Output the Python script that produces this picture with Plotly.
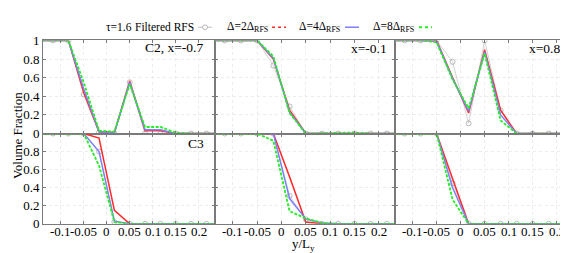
import plotly.graph_objects as go

# ---------------- data ----------------
y_pos = [-0.15, -0.1167, -0.0833, -0.05, -0.0167, 0.0167, 0.05, 0.0833, 0.1167, 0.15, 0.1833, 0.2167, 0.25]

# C2 (top row)
c2_m07_filt = [1, 1, 1, 0.42, 0.01, 0, 0.55, 0, 0, 0, 0, 0, 0]
c2_m07_d2 = [1, 1, 1, 0.44, 0.02, 0.01, 0.565, 0.03, 0.03, 0, 0, 0, 0]
c2_m07_d4 = [1, 1, 1, 0.48, 0.02, 0.01, 0.55, 0.04, 0.04, 0, 0, 0, 0]
c2_m07_d8 = [1, 1, 1, 0.55, 0.03, 0.02, 0.53, 0.07, 0.07, 0.01, 0, 0, 0]

c2_m01_filt = [1, 1, 1, 1, 0.73, 0.29, 0, 0, 0, 0, 0, 0, 0]
c2_m01_d2 = [1, 1, 1, 1, 0.80, 0.25, 0, 0, 0, 0, 0, 0, 0]
c2_m01_d4 = [1, 1, 1, 1, 0.81, 0.23, 0, 0, 0, 0, 0, 0, 0]
c2_m01_d8 = [1, 1, 1, 1, 0.83, 0.22, 0, 0.005, 0.01, 0.01, 0, 0, 0]

c2_p085_filt = [1, 1, 1, 1, 0.77, 0.11, 1.0, 0.25, 0, 0, 0, 0, 0]
c2_p085_d2 = [1, 1, 1, 1, 0.60, 0.22, 0.90, 0.25, 0, 0, 0, 0, 0]
c2_p085_d4 = [1, 1, 1, 0.99, 0.59, 0.24, 0.88, 0.20, 0, 0, 0, 0, 0]
c2_p085_d8 = [1, 1, 1, 0.98, 0.58, 0.27, 0.86, 0.14, 0, 0, 0, 0, 0]

# C3 (bottom row)
c3_m07_filt = [1, 1, 1, 1, 0.80, 0.02, 0, 0, 0, 0, 0, 0, 0]
c3_m07_d2 = [1, 1, 1, 1, 0.95, 0.15, 0, 0, 0, 0, 0, 0, 0]
c3_m07_d4 = [1, 1, 1, 1, 0.80, 0.03, 0, 0, 0, 0, 0, 0, 0]
c3_m07_d8 = [1, 1, 1, 1, 0.645, 0.02, 0, 0, 0, 0, 0, 0, 0]

c3_m01_filt = [1, 1, 1, 1, 1, 0.31, 0.05, 0, 0, 0, 0, 0, 0]
c3_m01_d2 = [1, 1, 1, 1, 1, 0.52, 0.02, 0, 0, 0, 0, 0, 0]
c3_m01_d4 = [1, 1, 1, 1, 1, 0.28, 0.055, 0.01, 0, 0, 0, 0, 0]
c3_m01_d8 = [1, 1, 1, 1, 0.92, 0.14, 0.06, 0.01, 0, 0, 0, 0, 0]

c3_p085_filt = [1, 1, 1, 1, 0.45, 0, 0, 0, 0, 0, 0, 0, 0]
c3_p085_d2 = [1, 1, 1, 1, 0.50, 0, 0, 0, 0, 0, 0, 0, 0]
c3_p085_d4 = [1, 1, 1, 1, 0.40, 0, 0, 0, 0, 0, 0, 0, 0]
c3_p085_d8 = [1, 1, 1, 1, 0.27, 0, 0, 0, 0, 0, 0, 0, 0]

x_tick_vals = [-0.1, -0.05, 0, 0.05, 0.1, 0.15, 0.2]
x_tick_text = ["-0.1", "-0.05", "0", "0.05", "0.1", "0.15", "0.2"]
y_tick_vals = [0, 0.2, 0.4, 0.6, 0.8, 1]
y_tick_text_top = ["0", "0.2", "0.4", "0.6", "0.8", "1"]
y_tick_text_bot = ["0", "0.2", "0.4", "0.6", "0.8", ""]

panel_labels = ["C2, x=-0.7", "x=-0.1", "x=0.85", "C3", "", ""]

panels = [
    (c2_m07_filt, c2_m07_d2, c2_m07_d4, c2_m07_d8),
    (c2_m01_filt, c2_m01_d2, c2_m01_d4, c2_m01_d8),
    (c2_p085_filt, c2_p085_d2, c2_p085_d4, c2_p085_d8),
    (c3_m07_filt, c3_m07_d2, c3_m07_d4, c3_m07_d8),
    (c3_m01_filt, c3_m01_d2, c3_m01_d4, c3_m01_d8),
    (c3_p085_filt, c3_p085_d2, c3_p085_d4, c3_p085_d8),
]

# ---------------- styling / layout ----------------
W, H = 568, 253
FONT = "Liberation Serif"
GRAY = "#a8a8a8"
RED = "#ff2a2a"
BLUE = "#8080ff"
GREEN = "#22ee22"
AX = "#7a7a7a"

def px_x(p):
    return p / W

def px_y(p):
    return 1 - p / H

col_dom = [(35, 207), (207, 387), (387, 565)]
row_dom = [(27, 126), (126, 222)]
x_ranges = [[-0.1385, 0.2354], [-0.1366, 0.2334], [-0.1366, 0.2340]]

fig = go.Figure()

for i, (filt, d2, d4, d8) in enumerate(panels):
    xa = "x" if i == 0 else f"x{i+1}"
    ya = "y" if i == 0 else f"y{i+1}"
    fig.add_trace(go.Scatter(x=y_pos, y=filt, xaxis=xa, yaxis=ya, mode="lines+markers",
                             line=dict(color="#c8c8c8", width=0.8),
                             marker=dict(symbol="circle-open", size=5, color=GRAY, line=dict(width=0.8)),
                             showlegend=False))
    fig.add_trace(go.Scatter(x=y_pos, y=d2, xaxis=xa, yaxis=ya, mode="lines",
                             line=dict(color=RED, width=1.5), showlegend=False))
    fig.add_trace(go.Scatter(x=y_pos, y=d4, xaxis=xa, yaxis=ya, mode="lines",
                             line=dict(color=BLUE, width=1.5), showlegend=False))
    fig.add_trace(go.Scatter(x=y_pos, y=d8, xaxis=xa, yaxis=ya, mode="lines",
                             line=dict(color=GREEN, width=1.8, dash="3px,1.5px"), showlegend=False))

layout = dict(width=W, height=H, margin=dict(l=0, r=0, t=0, b=0),
              paper_bgcolor="white", plot_bgcolor="white",
              font=dict(family=FONT, size=13, color="black"), showlegend=False)

for i in range(6):
    r, c = divmod(i, 3)
    xk = "xaxis" if i == 0 else f"xaxis{i+1}"
    yk = "yaxis" if i == 0 else f"yaxis{i+1}"
    ya_name = "y" if i == 0 else f"y{i+1}"
    xa_name = "x" if i == 0 else f"x{i+1}"
    layout[xk] = dict(domain=[px_x(col_dom[c][0]), px_x(col_dom[c][1])], range=x_ranges[c],
                      anchor=ya_name, tickvals=x_tick_vals, ticktext=x_tick_text,
                      showticklabels=False, ticks="inside", ticklen=3, tickcolor=AX,
                      showline=True, linecolor=AX, linewidth=1, mirror="allticks",
                      showgrid=True, gridcolor="#ececec", griddash="dot", zeroline=False)
    layout[yk] = dict(domain=[px_y(row_dom[r][1]), px_y(row_dom[r][0])], range=[0, 1],
                      anchor=xa_name, tickvals=y_tick_vals,
                      ticktext=(y_tick_text_top if r == 0 else y_tick_text_bot),
                      showticklabels=(c == 0), ticks="inside", ticklen=3, tickcolor=AX,
                      showline=True, linecolor=AX, linewidth=1, mirror="allticks",
                      showgrid=True, gridcolor="#ececec", griddash="dot", zeroline=False,
                      tickfont=dict(size=13, family=FONT))

fig.update_layout(**layout)

annotations = []
# x tick labels of the bottom row, placed through each axis' own scale
for c in range(3):
    xref = f"x{4 + c}"
    for v, t in zip(x_tick_vals, x_tick_text):
        annotations.append(dict(xref=xref, yref="paper", x=v, y=px_y(230), text=t,
                                showarrow=False, xanchor="center", yanchor="middle",
                                font=dict(size=13, family=FONT)))

label_pos = [(197, 35), (381, 36), (561, 36), (198, 137), None, None]
for i, lab in enumerate(panel_labels):
    if lab and label_pos[i]:
        annotations.append(dict(xref="paper", yref="paper", x=px_x(label_pos[i][0]), y=px_y(label_pos[i][1]),
                                text=lab, showarrow=False, xanchor="right", yanchor="middle",
                                font=dict(size=13.5, family=FONT)))

annotations.append(dict(xref="paper", yref="paper", x=px_x(9.5), y=px_y(128), text="Volume Fraction",
                        textangle=-90, showarrow=False, xanchor="center", yanchor="middle",
                        font=dict(size=13, family=FONT)))
annotations.append(dict(xref="paper", yref="paper", x=px_x(295), y=px_y(244), text="y/L<sub>y</sub>",
                        showarrow=False, xanchor="center", yanchor="middle", font=dict(size=13, family=FONT)))

# legend (manual)
leg_y = 13
LF = 11.5
annotations.append(dict(xref="paper", yref="paper", x=px_x(96), y=px_y(leg_y), text="τ=1.6",
                        showarrow=False, xanchor="left", yanchor="middle", font=dict(size=LF, family=FONT)))
leg_items = [
    ("Filtered RFS", 188, 190, 204, "#b0b0b0", "solid", 0.8),
    ("Δ=2Δ<sub>RFS</sub>", 262, 264, 278, RED, "dot", 1.5),
    ("Δ=4Δ<sub>RFS</sub>", 334, 337, 351, BLUE, "solid", 1.5),
    ("Δ=8Δ<sub>RFS</sub>", 408, 411, 424, GREEN, "dot", 2),
]
shapes = []
for text, tx, lx0, lx1, col, dash, w in leg_items:
    annotations.append(dict(xref="paper", yref="paper", x=px_x(tx), y=px_y(leg_y), text=text,
                            showarrow=False, xanchor="right", yanchor="middle", font=dict(size=LF, family=FONT)))
    shapes.append(dict(type="line", xref="paper", yref="paper", x0=px_x(lx0), x1=px_x(lx1),
                       y0=px_y(leg_y), y1=px_y(leg_y), line=dict(color=col, width=w, dash=dash)))
shapes.append(dict(type="circle", xref="paper", yref="paper", x0=px_x(194.5), x1=px_x(199.5),
                   y0=px_y(15.5), y1=px_y(10.5), line=dict(color=GRAY, width=0.8), fillcolor="white"))

fig.update_layout(annotations=annotations, shapes=shapes)
fig.write_html("out.html")
